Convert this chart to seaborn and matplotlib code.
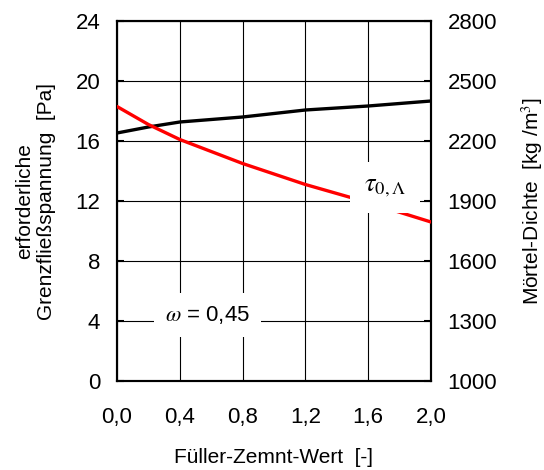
import matplotlib
matplotlib.use("Agg")
import matplotlib.pyplot as plt
import seaborn as sns
import pandas as pd

# Daten
fz_wert = [0.0, 0.2, 0.4, 0.8, 1.2, 1.6, 2.0]
grenzfliess = [18.3, 17.1, 16.1, 14.5, 13.1, 11.9, 10.6]
dichte = [2240, 2270, 2295, 2320, 2355, 2375, 2400]

x_ticks = [0.0, 0.4, 0.8, 1.2, 1.6, 2.0]
x_labels = ['0,0', '0,4', '0,8', '1,2', '1,6', '2,0']
left_ticks = [0, 4, 8, 12, 16, 20, 24]
right_ticks = [1000, 1300, 1600, 1900, 2200, 2500, 2800]

sns.set_style('white')
plt.rcParams['font.family'] = ['Liberation Sans', 'DejaVu Sans']
plt.rcParams['mathtext.fontset'] = 'stix'
plt.rcParams['axes.labelcolor'] = 'black'
plt.rcParams['text.color'] = 'black'

df = pd.DataFrame({'FZ': fz_wert, 'tau': grenzfliess, 'rho': dichte})

fig = plt.figure(figsize=(5.44, 4.70), dpi=100)
ax = fig.add_axes([117 / 544, 1 - 381 / 470, 314 / 544, 360 / 470])
ax2 = ax.twinx()

sns.lineplot(data=df, x='FZ', y='rho', ax=ax2, color='black', linewidth=2.4)
sns.lineplot(data=df, x='FZ', y='tau', ax=ax, color='red', linewidth=2.4, zorder=3)

ax.set_zorder(ax2.get_zorder() + 1)
ax.patch.set_visible(False)

ax.set_xlim(0, 2.0)
ax.set_ylim(0, 24)
ax2.set_ylim(1000, 2800)
ax.set_xticks(x_ticks)
ax.set_xticklabels(x_labels)
ax.set_yticks(left_ticks)
ax2.set_yticks(right_ticks)
ax.grid(True, color='black', linewidth=0.8)

for a in (ax, ax2):
    for s in a.spines.values():
        s.set_color('black')
        s.set_linewidth(1.5)
    a.tick_params(labelsize=16, colors='black', direction='in', length=5, width=1.5)
ax.tick_params(axis='y', pad=12)
ax.tick_params(axis='x', pad=19)
ax2.tick_params(axis='y', pad=12)

ax.set_xlabel('Füller-Zemnt-Wert  [-]', fontsize=15, labelpad=14)
ax.set_ylabel('erforderliche\nGrenzfließspannung  [Pa]', fontsize=15, labelpad=14)
ax2.set_ylabel('Mörtel-Dichte  [kg /m$^3$]', fontsize=15, labelpad=16)

ax.text(1.71, 12.9, r'$\tau_{0,\Lambda}$', fontsize=19, ha='center', va='center',
        zorder=5, bbox=dict(facecolor='white', edgecolor='none', pad=10))
ax.text(0.575, 4.4, r'$\omega$ = 0,45', fontsize=16, ha='center', va='center',
        zorder=5, bbox=dict(facecolor='white', edgecolor='none', pad=8))

fig.savefig('out.png', dpi=100)
